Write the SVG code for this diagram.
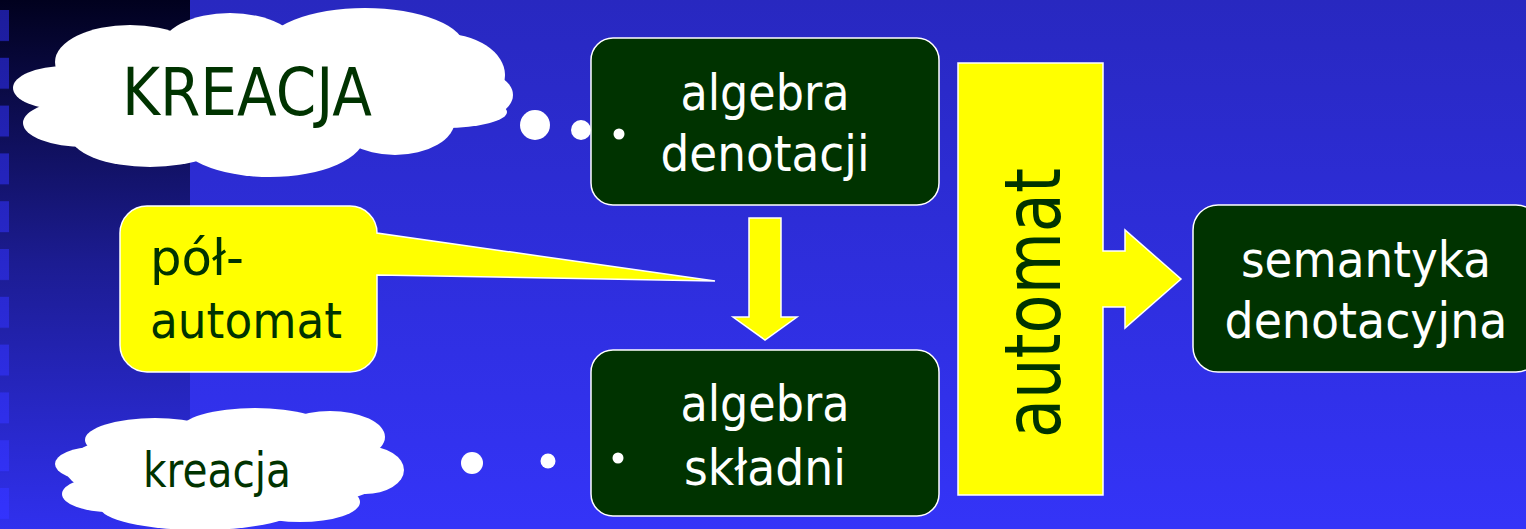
<svg xmlns="http://www.w3.org/2000/svg" width="1526" height="529" viewBox="0 0 1526 529">
<defs>
<linearGradient id="bg" x1="0" y1="0" x2="0" y2="1">
<stop offset="0" stop-color="#2828c0"/>
<stop offset="1" stop-color="#3434f8"/>
</linearGradient>
<linearGradient id="strip" x1="0" y1="0" x2="0" y2="1">
<stop offset="0" stop-color="#01011e"/>
<stop offset="0.5" stop-color="#1c1c92"/>
<stop offset="1" stop-color="#3030ee"/>
</linearGradient>
<linearGradient id="sq" x1="0" y1="0" x2="0" y2="1">
<stop offset="0" stop-color="#1c1c9a"/>
<stop offset="1" stop-color="#3434ff"/>
</linearGradient>
<pattern id="squares" x="0" y="10" width="10" height="47.8" patternUnits="userSpaceOnUse">
<rect x="0" y="0" width="9" height="31" fill="#ffffff"/>
</pattern>
<mask id="sqmask"><rect x="0" y="0" width="9" height="529" fill="url(#squares)"/></mask>
</defs>
<style>
.box{fill:#003300;stroke:#ffffff;stroke-width:1.5}
.yel{fill:#ffff00;stroke:#ffffff;stroke-width:1.5;stroke-linejoin:miter}
.cloud{fill:#ffffff}
.wt{fill:#ffffff;font-family:"DejaVu Sans","Liberation Sans",sans-serif;font-size:49px;text-anchor:middle}
.gt{fill:#003300;font-family:"DejaVu Sans","Liberation Sans",sans-serif}
.dot{fill:#ffffff}
</style>
<g id="background">
<rect x="0" y="0" width="1526" height="529" fill="url(#bg)"/>
<rect x="0" y="0" width="190" height="529" fill="url(#strip)"/>
<rect x="0" y="0" width="9" height="529" fill="url(#sq)" mask="url(#sqmask)"/>
</g>
<g id="cloud-kreacja-upper">
<g class="cloud">
<ellipse cx="265" cy="95" rx="200" ry="50"/>
<ellipse cx="130" cy="62" rx="75" ry="37"/>
<ellipse cx="230" cy="50" rx="70" ry="37"/>
<ellipse cx="365" cy="48" rx="100" ry="40"/>
<ellipse cx="440" cy="75" rx="65" ry="42"/>
<ellipse cx="460" cy="95" rx="53" ry="28"/>
<ellipse cx="445" cy="112" rx="62" ry="16"/>
<ellipse cx="395" cy="120" rx="60" ry="35"/>
<ellipse cx="270" cy="135" rx="95" ry="42"/>
<ellipse cx="150" cy="135" rx="80" ry="32"/>
<ellipse cx="85" cy="123" rx="62" ry="24"/>
<ellipse cx="65" cy="88" rx="52" ry="22"/>
</g>
<text class="gt" x="122" y="115" font-size="65" textLength="250" lengthAdjust="spacingAndGlyphs">KREACJA</text>
</g>
<g id="cloud-kreacja-lower">
<g class="cloud">
<ellipse cx="230" cy="468" rx="165" ry="45"/>
<ellipse cx="95" cy="464" rx="40" ry="17"/>
<ellipse cx="110" cy="494" rx="48" ry="18"/>
<ellipse cx="155" cy="440" rx="70" ry="22"/>
<ellipse cx="255" cy="430" rx="75" ry="22"/>
<ellipse cx="330" cy="437" rx="55" ry="26"/>
<ellipse cx="365" cy="470" rx="39" ry="24"/>
<ellipse cx="300" cy="502" rx="60" ry="20"/>
<ellipse cx="200" cy="507" rx="100" ry="23"/>
</g>
<text class="gt" x="143" y="487" font-size="48" textLength="148" lengthAdjust="spacingAndGlyphs">kreacja</text>
</g>
<g id="connectors">
<circle class="dot" cx="535" cy="125" r="15"/>
<circle class="dot" cx="581" cy="130" r="10"/>
<circle class="dot" cx="472" cy="463" r="11"/>
<circle class="dot" cx="548" cy="461" r="7.5"/>
<polygon class="yel" points="749,218 781,218 781,317 797,317 765,340 733,317 749,317"/>
</g>
<g id="algebra-denotacji">
<rect class="box" x="591" y="38" width="348" height="167" rx="22"/>
<circle class="dot" cx="619" cy="134" r="5.5"/>
<text class="wt" x="765" y="110" textLength="169" lengthAdjust="spacingAndGlyphs">algebra</text>
<text class="wt" x="765" y="171" textLength="209" lengthAdjust="spacingAndGlyphs">denotacji</text>
</g>
<g id="algebra-skladni">
<rect class="box" x="591" y="350" width="348" height="166" rx="22"/>
<circle class="dot" cx="618" cy="458" r="5.5"/>
<text class="wt" x="765" y="421" textLength="169" lengthAdjust="spacingAndGlyphs">algebra</text>
<text class="wt" x="765" y="485" textLength="162" lengthAdjust="spacingAndGlyphs">składni</text>
</g>
<g id="pol-automat">
<path class="yel" d="M147,206 H350 A27,27 0 0 1 377,233 L715,281 L377,275 V345 A27,27 0 0 1 350,372 H147 A27,27 0 0 1 120,345 V233 A27,27 0 0 1 147,206 Z"/>
<text class="gt" x="150" y="275" font-size="50" textLength="94" lengthAdjust="spacingAndGlyphs">pół-</text>
<text class="gt" x="150" y="338" font-size="50" textLength="192" lengthAdjust="spacingAndGlyphs">automat</text>
</g>
<g id="automat">
<polygon class="yel" points="958,63 1103,63 1103,251 1125,251 1125,230 1181,279 1125,328 1125,307 1103,307 1103,495 958,495"/>
<text class="gt" transform="translate(1060,438) rotate(-90)" x="0" y="0" font-size="79" textLength="270" lengthAdjust="spacingAndGlyphs">automat</text>
</g>
<g id="semantyka-denotacyjna">
<rect class="box" x="1193" y="205" width="348" height="167" rx="25"/>
<text class="wt" x="1366" y="277" textLength="250" lengthAdjust="spacingAndGlyphs">semantyka</text>
<text class="wt" x="1366" y="338" textLength="283" lengthAdjust="spacingAndGlyphs">denotacyjna</text>
</g>
</svg>
